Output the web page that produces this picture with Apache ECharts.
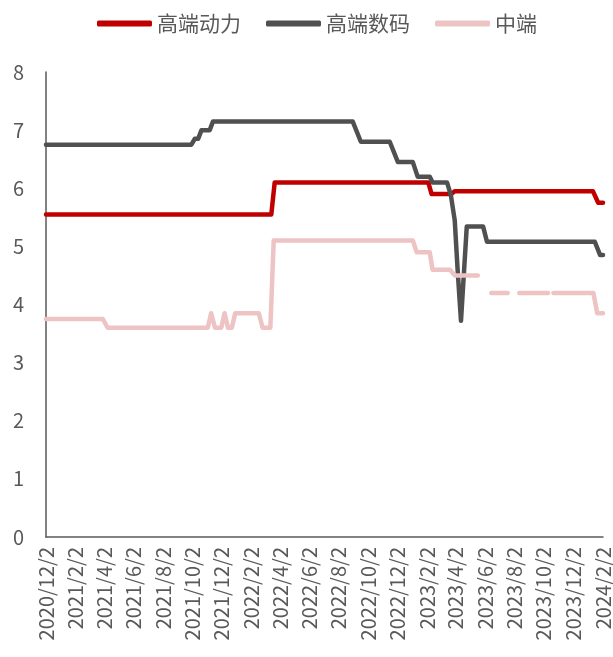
<!DOCTYPE html>
<html>
<head>
<meta charset="utf-8">
<title>高端动力 / 高端数码 / 中端</title>
<script src="https://cdn.jsdelivr.net/npm/echarts@6/dist/echarts.min.js"></script>
<style>
    html, body {
        margin: 0;
        padding: 0;
        background: #fff;
    }
    #myChart {
        width: 613px;
        height: 657px;
    }
</style>
</head>
<body>
<div id="myChart"></div>
<script>
    // 横轴标签（每两个月一个）
    let tickLabels = ['2020/12/2', '2021/2/2', '2021/4/2', '2021/6/2', '2021/8/2', '2021/10/2',
        '2021/12/2', '2022/2/2', '2022/4/2', '2022/6/2', '2022/8/2', '2022/10/2', '2022/12/2',
        '2023/2/2', '2023/4/2', '2023/6/2', '2023/8/2', '2023/10/2', '2023/12/2', '2024/2/2'];

    let seriesNames = ['高端动力', '高端数码', '中端'];

    // 高端动力
    let powerData = [
        ['2020/12/2', 5.55], ['2022/3/15', 5.55], ['2022/3/22', 6.1],
        ['2023/2/4', 6.1], ['2023/2/11', 5.9], ['2023/3/24', 5.9],
        ['2023/3/31', 5.95], ['2024/1/12', 5.95], ['2024/1/23', 5.75],
        ['2024/2/2', 5.75]
    ];

    // 高端数码
    let digitalData = [
        ['2020/12/2', 6.75], ['2021/9/30', 6.75], ['2021/10/7', 6.85],
        ['2021/10/14', 6.85], ['2021/10/21', 7.0], ['2021/11/7', 7.0],
        ['2021/11/14', 7.15], ['2022/8/31', 7.15], ['2022/9/17', 6.8],
        ['2022/11/16', 6.8], ['2022/12/3', 6.45], ['2023/1/3', 6.45],
        ['2023/1/13', 6.2], ['2023/2/7', 6.2], ['2023/2/13', 6.1],
        ['2023/3/15', 6.1], ['2023/3/23', 5.88], ['2023/3/31', 5.45],
        ['2023/4/6', 4.6], ['2023/4/13', 3.72], ['2023/4/25', 5.34],
        ['2023/5/29', 5.34], ['2023/6/6', 5.08], ['2024/1/16', 5.08],
        ['2024/1/27', 4.85], ['2024/2/2', 4.85]
    ];

    // 中端（空值处断开）
    let midData = [
        ['2020/12/2', 3.75], ['2021/3/30', 3.75], ['2021/4/9', 3.6],
        ['2021/11/3', 3.6], ['2021/11/10', 3.85], ['2021/11/18', 3.6],
        ['2021/12/1', 3.6], ['2021/12/8', 3.85], ['2021/12/15', 3.6],
        ['2021/12/23', 3.6], ['2021/12/30', 3.85], ['2022/2/17', 3.85],
        ['2022/2/25', 3.6], ['2022/3/13', 3.6], ['2022/3/20', 5.1],
        ['2023/1/3', 5.1], ['2023/1/11', 4.9], ['2023/2/7', 4.9],
        ['2023/2/13', 4.6], ['2023/3/21', 4.6], ['2023/3/31', 4.5],
        ['2023/5/18', 4.5], ['2023/5/25', null],
        ['2023/6/15', 4.2], ['2023/7/19', 4.2], ['2023/7/26', null],
        ['2023/8/12', 4.2], ['2023/10/11', 4.2], ['2023/10/15', null],
        ['2023/10/22', 4.2], ['2024/1/13', 4.2], ['2024/1/21', 3.85],
        ['2024/2/2', 3.85]
    ];

    let colors = ['#C00000', '#505050', '#EDC3C3'];

    // 'yyyy/m/d' -> 时间戳（本地时间）
    function toTime(str) {
        let p = str.split('/');
        return new Date(+p[0], +p[1] - 1, +p[2]).getTime();
    }

    let tickValues = tickLabels.map(toTime);
    let textColor = '#595959';
    let font = '"Noto Sans CJK SC", "Microsoft YaHei", sans-serif';

    function makeSeries(name, data, color) {
        return {
            name: name,
            type: 'line',
            showSymbol: false,
            symbol: 'none',
            connectNulls: false,
            lineStyle: {
                color: color,
                width: 4.5,
                cap: 'round',
                join: 'round'
            },
            itemStyle: {
                color: color
            },
            data: data.map(el => [toTime(el[0]), el[1] === null ? '-' : el[1]])
        };
    }

    let option = {
        animation: false,
        backgroundColor: '#fff',
        textStyle: {
            fontFamily: font
        },
        legend: {
            top: 8,
            left: 92,
            icon: 'roundRect',
            itemWidth: 55,
            itemHeight: 6,
            itemGap: 25,
            textStyle: {
                fontSize: 21,
                color: textColor,
                fontFamily: font
            },
            data: seriesNames
        },
        grid: {
            left: 46,
            right: 10,
            top: 72,
            bottom: 120
        },
        xAxis: {
            type: 'value',
            min: tickValues[0],
            max: tickValues[tickValues.length - 1],
            splitLine: { show: false },
            axisTick: { show: false },
            axisLine: {
                lineStyle: { color: textColor, width: 1.5 }
            },
            axisLabel: {
                customValues: tickValues,
                rotate: 90,
                margin: 10,
                fontSize: 20,
                color: textColor,
                fontFamily: font,
                hideOverlap: false,
                formatter: function (val) {
                    let d = new Date(val);
                    return d.getFullYear() + '/' + (d.getMonth() + 1) + '/' + d.getDate();
                }
            }
        },
        yAxis: {
            type: 'value',
            min: 0,
            max: 8,
            interval: 1,
            splitLine: { show: false },
            axisTick: { show: false },
            axisLine: {
                show: true,
                lineStyle: { color: textColor, width: 1.5 }
            },
            axisLabel: {
                margin: 22,
                fontSize: 20,
                color: textColor,
                fontFamily: font
            }
        },
        series: [
            makeSeries(seriesNames[0], powerData, colors[0]),
            makeSeries(seriesNames[1], digitalData, colors[1]),
            makeSeries(seriesNames[2], midData, colors[2])
        ]
    };

    // 基于准备好的dom，初始化echarts实例
    let myChart = echarts.init(document.getElementById('myChart'));
    myChart.setOption(option);
</script>
</body>
</html>
